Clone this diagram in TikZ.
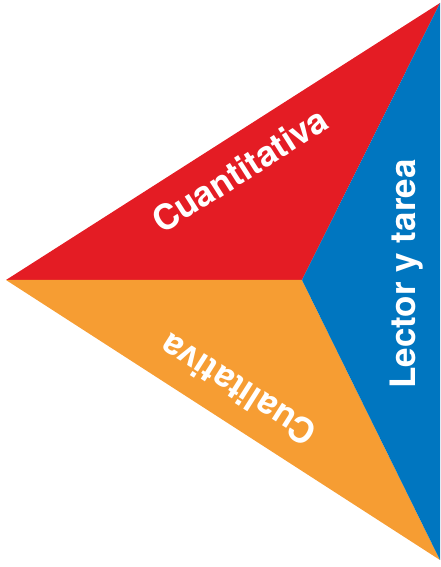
\documentclass[tikz,border=0pt]{standalone}
\usepackage{fontspec}
\setmainfont{TeX Gyre Heros}
\usepackage{xcolor}
\usepackage{tikz}
\definecolor{rojo}{RGB}{228,28,36}
\definecolor{naranja}{RGB}{246,157,51}
\definecolor{azul}{RGB}{0,118,192}
\begin{document}
\begin{tikzpicture}[x=1pt,y=1pt]
        \tikzstyle{every node}+=[inner sep=0pt]
        \tikzstyle{rotulo}=[text=white,font=\fontsize{35}{35}\selectfont\bfseries]
        \useasboundingbox (0,0) rectangle (440,567);
        \coordinate (izq) at (6,287);
        \coordinate (arr) at (440,564);
        \coordinate (aba) at (440,7);
        \coordinate (cen) at (302,287);
        \fill [rojo] (izq) -- (arr) -- (cen) -- cycle;
        \fill [naranja] (izq) -- (cen) -- (aba) -- cycle;
        \fill [azul] (arr) -- (aba) -- (cen) -- cycle;
        \node [rotulo,rotate=32.5] (cuanti) at (240,397) {Cuantitativa};
        \node [rotulo,rotate=147.5] (cuali) at (238,177) {Cualitativa};
        \node [rotulo,rotate=90] (lector) at (407,293) {Lector y tarea};
\end{tikzpicture}
\end{document}
